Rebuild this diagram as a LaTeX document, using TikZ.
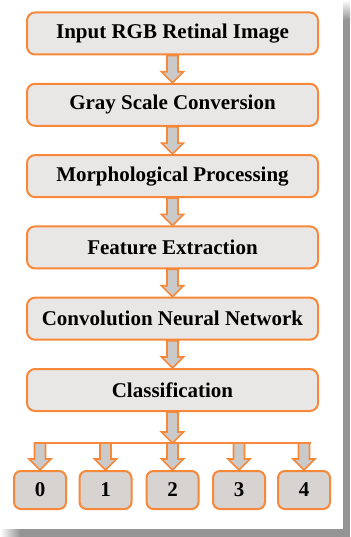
\documentclass[tikz,border=0pt]{standalone}
\usepackage{fontspec}
\setmainfont{Liberation Serif}
\usetikzlibrary{calc}

\definecolor{edgeorange}{HTML}{F7883A}
\definecolor{stagefill}{HTML}{E8E7E5}
\definecolor{classfill}{HTML}{D6D3D1}
\definecolor{arrowfill}{HTML}{CACACA}
\definecolor{shadowgray}{HTML}{959595}

% hollow block arrow pointing down, from the first point to the second
\newcommand\flowdown[2]{%
  \filldraw[flowarrow] let \p1=(#1), \p2=(#2) in
    (\x1-5.5pt,\y1) -- (\x1-5.5pt,\y2+11pt) -- (\x1-11pt,\y2+11pt) -- (\x1,\y2)
    -- (\x1+11pt,\y2+11pt) -- (\x1+5.5pt,\y2+11pt) -- (\x1+5.5pt,\y1) -- cycle;}

\begin{document}
\begin{tikzpicture}[x=1pt,y=-1pt,
  stage/.style={draw=edgeorange,line width=2pt,rounded corners=8pt,fill=stagefill,
    minimum width=291pt,minimum height=42pt,inner sep=0pt,
    font=\fontsize{21}{25}\selectfont\bfseries},
  classbox/.style={draw=edgeorange,line width=2pt,rounded corners=7pt,fill=classfill,
    minimum width=52pt,minimum height=38pt,inner sep=0pt,
    font=\fontsize{21}{25}\selectfont\bfseries},
  flowarrow/.style={draw=edgeorange,line width=1.6pt,fill=arrowfill,line join=miter}]

\useasboundingbox (0,0) rectangle (350,537);

% page with drop shadow
\fill[shadowgray] (343,20) rectangle (350,537);
\fill[shadowgray] (20,529) rectangle (350,537);
\shade[top color=white,bottom color=shadowgray] (343,0) rectangle (350,20);
\shade[left color=white,right color=shadowgray] (0,529) rectangle (20,537);
\fill[white] (0,0) rectangle (343,529);

% processing stages
\node[stage] (s1) at (172.5,33.5)  {Input RGB Retinal Image};
\node[stage] (s2) at (172.5,104.8) {Gray Scale Conversion};
\node[stage] (s3) at (172.5,176.1) {Morphological Processing};
\node[stage] (s4) at (172.5,247.4) {Feature Extraction};
\node[stage] (s5) at (172.5,318.7) {Convolution Neural Network};
\node[stage] (s6) at (172.5,390)   {Classification};

% output classes
\node[classbox] (d0) at (40,490)    {0};
\node[classbox] (d1) at (105.5,490) {1};
\node[classbox] (d2) at (172.5,490) {2};
\node[classbox] (d3) at (239,490)   {3};
\node[classbox] (d4) at (304,490)   {4};

\coordinate (bus) at (0,443);

% arrows between stages
\flowdown{s1.south}{s2.north}
\flowdown{s2.south}{s3.north}
\flowdown{s3.south}{s4.north}
\flowdown{s4.south}{s5.north}
\flowdown{s5.south}{s6.north}
\flowdown{s6.south}{s6.south |- bus}

% distribution bus and arrows into the classes
\flowdown{d0.north |- bus}{d0.north}
\flowdown{d1.north |- bus}{d1.north}
\flowdown{d2.north |- bus}{d2.north}
\flowdown{d3.north |- bus}{d3.north}
\flowdown{d4.north |- bus}{d4.north}
\draw[edgeorange,line width=2pt]
  ($(d0.north |- bus)+(-5.5,0)$) -- ($(d4.north |- bus)+(7,0)$);
\end{tikzpicture}
\end{document}
